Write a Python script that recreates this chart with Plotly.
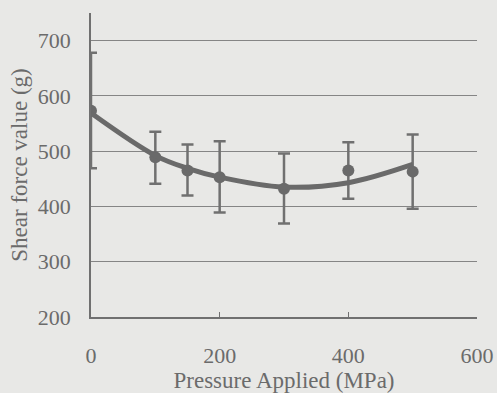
import plotly.graph_objects as go

# Data
pressure = [0, 100, 150, 200, 300, 400, 500]
shear = [573, 489, 465, 453, 432, 465, 463]
upper = [678, 535, 512, 518, 496, 516, 530]
lower = [469, 441, 420, 389, 369, 414, 396]

# Trend curve points (smoothed by Plotly spline)
trend_x = [0, 100, 150, 200, 300, 400, 500]
trend_y = [569, 492, 469, 453, 435, 443, 476]

x_ticks = [0, 200, 400, 600]
y_ticks = [200, 300, 400, 500, 600, 700]

err_plus = [u - v for u, v in zip(upper, shear)]
err_minus = [v - l for v, l in zip(shear, lower)]

bg = "#e8e8e6"
ink = "#6b6b6b"

fig = go.Figure()
fig.add_trace(go.Scatter(
    x=pressure, y=shear, mode="markers",
    marker=dict(size=12, color="#6a6a6a"),
    error_y=dict(type="data", symmetric=False, array=err_plus, arrayminus=err_minus,
                 color="#707070", thickness=2.5, width=6),
    showlegend=False,
))
fig.add_trace(go.Scatter(
    x=trend_x, y=trend_y, mode="lines",
    line=dict(color="#6a6a6a", width=5, shape="spline", smoothing=1.0),
    showlegend=False,
))

fig.update_layout(
    width=497, height=393,
    margin=dict(l=91, r=20, t=13, b=76, autoexpand=False),
    paper_bgcolor=bg, plot_bgcolor=bg,
    font=dict(family="Liberation Serif, Times New Roman, serif", size=22, color=ink),
)
fig.update_xaxes(
    range=[0, 600], tickvals=x_ticks, ticktext=[str(v) for v in x_ticks],
    showgrid=False, zeroline=False, automargin=False,
    showline=True, linecolor="#707070", linewidth=1.5,
    ticks="inside", ticklen=5, tickcolor="#707070", tickwidth=1.2,
    ticklabelstandoff=18,
    title=dict(text="Pressure Applied (MPa)", standoff=4, font=dict(size=23)),
    tickfont=dict(size=22),
)
fig.update_yaxes(
    range=[200, 750], tickvals=y_ticks, ticktext=[str(v) for v in y_ticks],
    showgrid=True, gridcolor="#858585", gridwidth=1, zeroline=False, automargin=False,
    showline=True, linecolor="#707070", linewidth=1.5,
    ticks="", ticklabelstandoff=14,
    title=dict(text="Shear force value (g)", standoff=4, font=dict(size=23)),
    tickfont=dict(size=22),
)

fig.write_html(
    "out.html",
    config={"displayModeBar": False},
    post_script="document.body.style.margin='0';document.body.style.overflow='hidden';",
)
